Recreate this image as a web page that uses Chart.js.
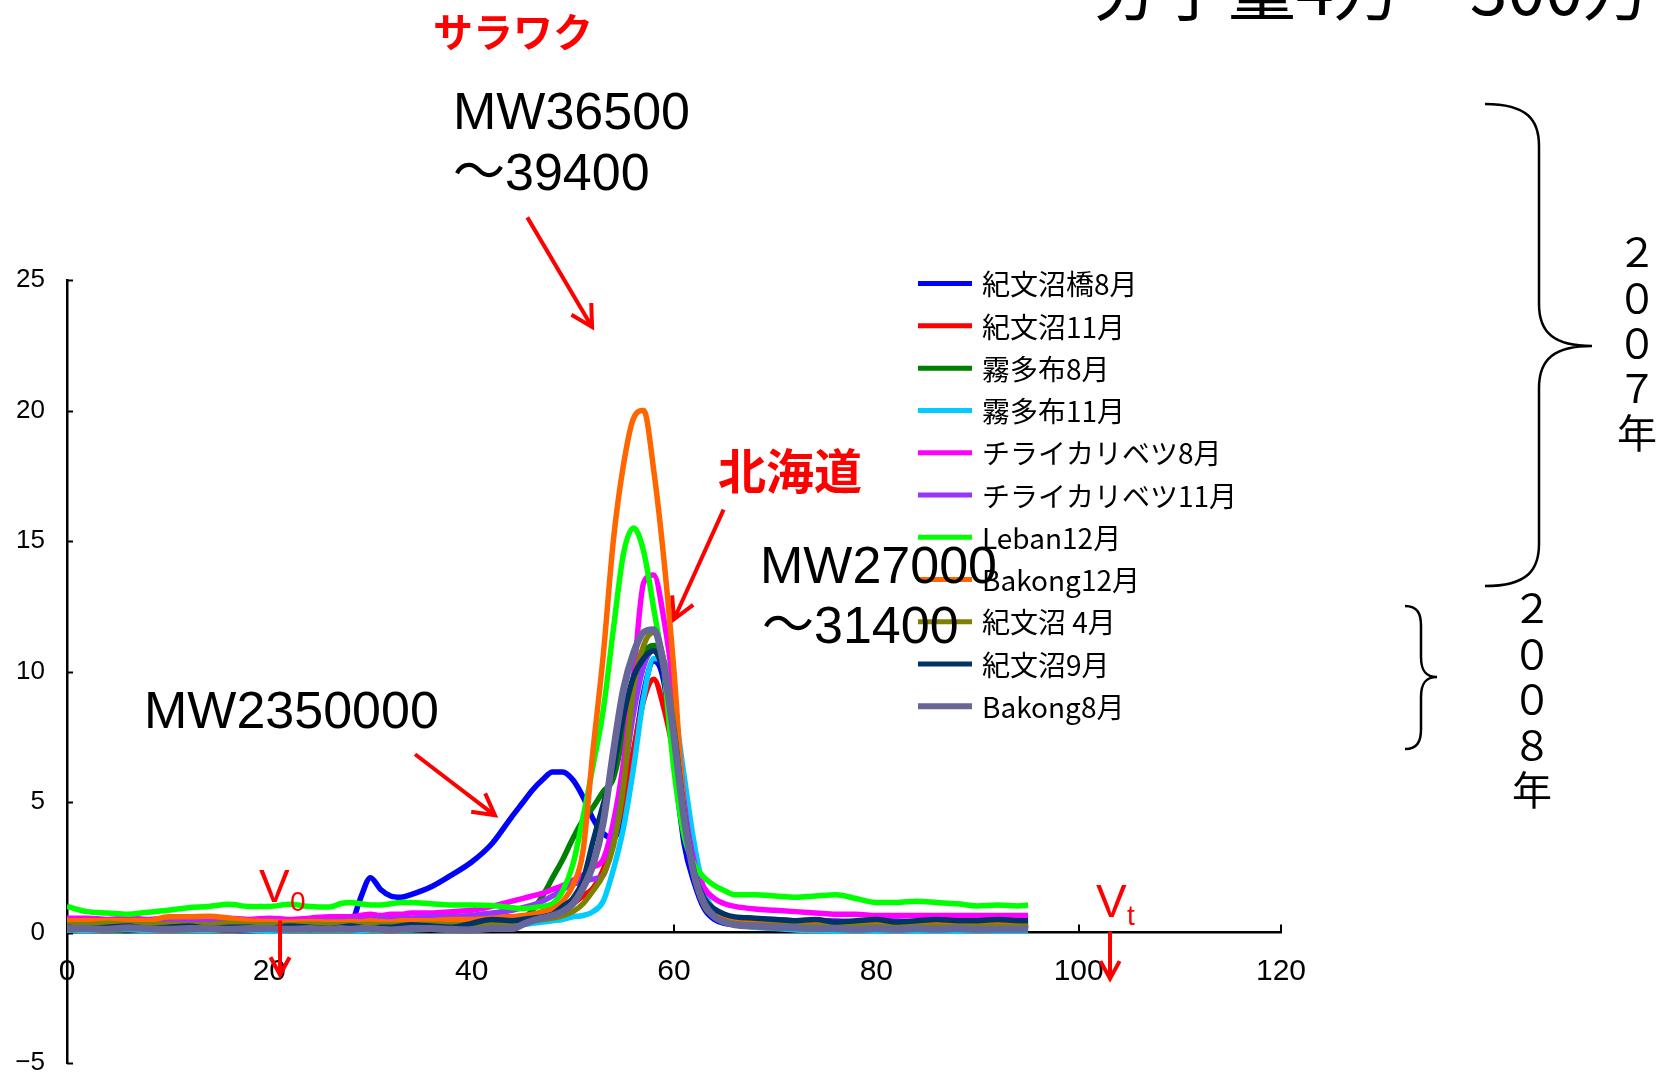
<!DOCTYPE html>
<html lang="ja">
<head>
<meta charset="utf-8">
<title>分子量4万～300万</title>
<script src="https://cdn.jsdelivr.net/npm/chart.js@4.4.1/dist/chart.umd.min.js"></script>
<style>
  html, body { margin: 0; padding: 0; background: #ffffff; }
  canvas { display: block; }
</style>
</head>
<body>
<canvas id="chart" width="1678" height="1076"></canvas>
<script>
// Elution volume (ml) shared by every trace
const elutionVolume = [
  0, 2, 4, 6, 8, 10, 12, 14, 16, 18, 20, 22, 24, 26,
  27, 28, 29, 30, 31, 32, 33,
  34, 36, 38, 40, 42, 44,
  45, 46, 47, 48, 49, 50, 51, 52, 53, 54, 55, 56, 57, 58, 59, 60, 61, 62, 63, 64, 65, 66,
  68, 70, 72, 74, 76, 78, 80, 82, 84, 86, 88, 90, 92, 94, 95
];

const seriesNames = [
  '紀文沼橋8月', '紀文沼11月', '霧多布8月', '霧多布11月', 'チライカリベツ8月',
  'チライカリベツ11月', 'Leban12月', 'Bakong12月', '紀文沼 4月', '紀文沼9月', 'Bakong8月'
];

const seriesColors = [
  '#0000FF', '#FF0000', '#008000', '#00CCFF', '#FF00FF',
  '#9933FF', '#00FF00', '#FF6600', '#808000', '#003366', '#666699'
];

// Detector response of each sample along the elution volume
const kibunBridgeAug = [
  0.15, 0.1, 0.12, 0.08, 0.1, 0.12, 0.1, 0.15, 0.1, 0.08, 0.12, 0.1, 0.15, 0.12,
  0.12, 0.25, 1.3, 2.1, 1.65, 1.4, 1.35,
  1.45, 1.75, 2.2, 2.7, 3.4, 4.45,
  4.95, 5.45, 5.85, 6.15, 6.15, 5.85, 5.2, 4.35, 3.8, 3.6, 4.6, 6.8, 9.2, 10.4, 9.6, 6.5, 3.4, 1.9, 0.9, 0.5, 0.35, 0.3,
  0.25, 0.2, 0.22, 0.18, 0.2, 0.15, 0.18, 0.2, 0.15, 0.18, 0.2, 0.15, 0.18, 0.2, 0.2
];
const kibunNov = [
  0.25, 0.3, 0.2, 0.3, 0.25, 0.35, 0.3, 0.25, 0.3, 0.25, 0.3, 0.25, 0.3, 0.3,
  0.28, 0.3, 0.35, 0.32, 0.3, 0.35, 0.33,
  0.35, 0.4, 0.45, 0.5, 0.55, 0.6,
  0.6, 0.65, 0.7, 0.75, 0.9, 1.1, 1.4, 1.7, 2.4, 3.6, 5.0, 7.0, 8.9, 9.7, 8.6, 6.8, 4.5, 2.3, 1.1, 0.7, 0.5, 0.45,
  0.4, 0.35, 0.35, 0.3, 0.32, 0.3, 0.3, 0.28, 0.3, 0.3, 0.28, 0.3, 0.3, 0.28, 0.3
];
const kiritappuAug = [
  0.1, 0.12, 0.08, 0.1, 0.1, 0.12, 0.1, 0.1, 0.12, 0.1, 0.08, 0.1, 0.12, 0.1,
  0.1, 0.1, 0.12, 0.1, 0.1, 0.12, 0.1,
  0.12, 0.15, 0.15, 0.2, 0.25, 0.35,
  0.5, 0.85, 1.4, 2.1, 2.8, 3.6, 4.3, 4.8, 5.4, 5.9, 7.6, 9.5, 10.7, 11.0, 10.4, 8.0, 5.3, 2.6, 1.3, 0.8, 0.55, 0.45,
  0.4, 0.35, 0.3, 0.32, 0.3, 0.28, 0.3, 0.3, 0.28, 0.3, 0.28, 0.3, 0.3, 0.28, 0.3
];
const kiritappuNov = [
  0.1, 0.08, 0.1, 0.12, 0.08, 0.1, 0.1, 0.08, 0.12, 0.1, 0.05, 0.08, 0.1, 0.08,
  0.1, 0.08, 0.05, 0.1, 0.08, 0.1, 0.08,
  0.1, 0.12, 0.1, 0.15, 0.2, 0.25,
  0.3, 0.35, 0.4, 0.45, 0.5, 0.6, 0.65, 0.8, 1.2, 2.4, 4.0, 6.3, 9.0, 10.5, 10.4, 8.7, 6.0, 3.4, 1.6, 0.8, 0.45, 0.3,
  0.2, 0.15, 0.1, 0.08, 0.05, 0.08, 0.05, 0.08, 0.05, 0.06, 0.05, 0.08, 0.05, 0.06, 0.05
];
const chiraiAug = [
  0.55, 0.55, 0.5, 0.55, 0.5, 0.55, 0.55, 0.5, 0.55, 0.5, 0.55, 0.5, 0.55, 0.6,
  0.6, 0.6, 0.65, 0.7, 0.65, 0.7, 0.7,
  0.75, 0.75, 0.8, 0.85, 1.0, 1.2,
  1.3, 1.4, 1.5, 1.65, 1.8, 2.0, 2.2, 2.5, 2.8, 4.2, 6.5, 9.8, 13.4, 13.7, 12.0, 9.2, 5.0, 2.7, 1.7, 1.3, 1.1, 1.0,
  0.9, 0.85, 0.8, 0.75, 0.7, 0.7, 0.65, 0.65, 0.65, 0.65, 0.65, 0.65, 0.65, 0.65, 0.65
];
const chiraiNov = [
  0.45, 0.45, 0.4, 0.45, 0.4, 0.45, 0.45, 0.4, 0.45, 0.4, 0.45, 0.4, 0.45, 0.45,
  0.45, 0.5, 0.5, 0.5, 0.55, 0.5, 0.55,
  0.55, 0.6, 0.6, 0.65, 0.75, 0.85,
  0.95, 1.05, 1.2, 1.4, 1.65, 1.85, 1.95, 2.05, 2.2, 3.5, 5.8, 8.4, 10.2, 10.8, 10.0, 7.9, 4.8, 2.5, 1.3, 0.8, 0.6, 0.55,
  0.5, 0.5, 0.45, 0.45, 0.45, 0.4, 0.45, 0.45, 0.4, 0.45, 0.45, 0.4, 0.45, 0.45, 0.45
];
const lebanDec = [
  1.0, 0.8, 0.75, 0.7, 0.78, 0.85, 0.95, 1.0, 1.08, 1.0, 1.0, 1.08, 1.0, 0.98,
  1.1, 1.15, 1.1, 1.05, 1.05, 1.1, 1.15,
  1.15, 1.1, 1.05, 1.05, 1.03, 0.95,
  0.92, 0.95, 1.0, 1.1, 1.6, 2.6, 4.4, 6.4, 8.5, 11.6, 14.5, 15.5, 14.6, 12.4, 10.0, 6.2, 3.7, 2.6, 2.1, 1.8, 1.6, 1.45,
  1.45, 1.4, 1.35, 1.4, 1.45, 1.3, 1.15, 1.15, 1.2, 1.15, 1.1, 1.02, 1.05, 1.02, 1.05
];
const bakongDec = [
  0.45, 0.45, 0.45, 0.45, 0.45, 0.6, 0.6, 0.62, 0.55, 0.45, 0.42, 0.4, 0.42, 0.4,
  0.4, 0.42, 0.4, 0.45, 0.42, 0.4, 0.45,
  0.45, 0.45, 0.5, 0.5, 0.55, 0.6,
  0.65, 0.7, 0.8, 0.9, 1.2, 1.8, 3.1, 7.0, 10.6, 15.0, 17.9, 19.7, 20.0, 17.7, 14.3, 10.0, 4.7, 2.2, 1.1, 0.7, 0.5, 0.45,
  0.4, 0.35, 0.35, 0.3, 0.3, 0.3, 0.32, 0.3, 0.3, 0.3, 0.28, 0.3, 0.3, 0.3, 0.3
];
const kibunApr = [
  0.3, 0.3, 0.35, 0.3, 0.3, 0.32, 0.3, 0.3, 0.35, 0.3, 0.3, 0.3, 0.32, 0.3,
  0.3, 0.3, 0.3, 0.32, 0.3, 0.3, 0.3,
  0.3, 0.32, 0.3, 0.3, 0.35, 0.35,
  0.4, 0.45, 0.5, 0.55, 0.65, 0.8, 1.1, 1.6, 2.2, 3.3, 5.6, 9.4, 11.0, 11.5, 10.4, 7.9, 4.6, 2.2, 1.0, 0.6, 0.45, 0.35,
  0.3, 0.28, 0.25, 0.25, 0.22, 0.25, 0.25, 0.22, 0.25, 0.25, 0.22, 0.25, 0.25, 0.22, 0.25
];
const kibunSep = [
  0.2, 0.15, 0.2, 0.25, 0.15, 0.2, 0.25, 0.15, 0.2, 0.2, 0.15, 0.25, 0.2, 0.15,
  0.2, 0.25, 0.2, 0.15, 0.2, 0.2, 0.25,
  0.3, 0.25, 0.2, 0.35, 0.5, 0.45,
  0.5, 0.55, 0.6, 0.7, 1.0, 1.3, 2.0, 3.5, 4.9, 6.3, 8.3, 9.8, 10.5, 10.8, 9.9, 7.7, 4.6, 2.3, 1.3, 0.9, 0.7, 0.6,
  0.55, 0.5, 0.45, 0.5, 0.4, 0.45, 0.5, 0.4, 0.45, 0.5, 0.45, 0.45, 0.5, 0.45, 0.45
];
const bakongAug = [
  0.15, 0.15, 0.12, 0.18, 0.15, 0.12, 0.15, 0.15, 0.12, 0.15, 0.15, 0.12, 0.15, 0.12,
  0.15, 0.12, 0.15, 0.15, 0.12, 0.1, 0.12,
  0.15, 0.15, 0.12, 0.1, 0.15, 0.15,
  0.3, 0.45, 0.55, 0.65, 0.8, 1.1, 1.7, 2.6, 4.2, 6.9, 9.3, 10.7, 11.5, 11.6, 10.2, 7.5, 4.4, 2.2, 1.1, 0.6, 0.4, 0.3,
  0.25, 0.2, 0.18, 0.15, 0.15, 0.12, 0.15, 0.12, 0.15, 0.12, 0.15, 0.12, 0.12, 0.12, 0.12
];

const seriesValues = [
  kibunBridgeAug, kibunNov, kiritappuAug, kiritappuNov, chiraiAug,
  chiraiNov, lebanDec, bakongDec, kibunApr, kibunSep, bakongAug
];

const yTickValues = [-5, 0, 5, 10, 15, 20, 25];
const xTickValues = [0, 20, 40, 60, 80, 100, 120];

const CJK = '"Noto Sans CJK JP", "Noto Sans CJK SC", sans-serif';
const LATIN = '"Liberation Sans", "Noto Sans CJK JP", sans-serif';

const datasets = seriesNames.map((name, i) => ({
  label: name,
  data: elutionVolume.map((v, k) => ({ x: v, y: seriesValues[i][k] })),
  borderColor: seriesColors[i],
  backgroundColor: seriesColors[i],
  borderWidth: i === 10 ? 7 : 5.5,
  pointRadius: 0,
  cubicInterpolationMode: 'monotone',
  borderJoinStyle: 'round',
  fill: false,
  // later samples are painted over earlier ones
  order: seriesNames.length - 1 - i
}));

function arrow(ctx, x1, y1, x2, y2, head) {
  const a = Math.atan2(y2 - y1, x2 - x1);
  ctx.beginPath();
  ctx.moveTo(x1, y1);
  ctx.lineTo(x2, y2);
  ctx.moveTo(x2 - head * Math.cos(a - 0.5), y2 - head * Math.sin(a - 0.5));
  ctx.lineTo(x2, y2);
  ctx.lineTo(x2 - head * Math.cos(a + 0.5), y2 - head * Math.sin(a + 0.5));
  ctx.stroke();
}

function brace(ctx, xl, xm, xt, yTop, yTip, yBot, r) {
  ctx.beginPath();
  ctx.moveTo(xl, yTop);
  ctx.bezierCurveTo(xm - (xm - xl) * 0.2, yTop, xm, yTop + r * 0.4, xm, yTop + r);
  ctx.lineTo(xm, yTip - r);
  ctx.bezierCurveTo(xm, yTip - r * 0.3, xm + (xt - xm) * 0.3, yTip, xt, yTip);
  ctx.bezierCurveTo(xm + (xt - xm) * 0.3, yTip, xm, yTip + r * 0.3, xm, yTip + r);
  ctx.lineTo(xm, yBot - r);
  ctx.bezierCurveTo(xm, yBot - r * 0.4, xm - (xm - xl) * 0.2, yBot, xl, yBot);
  ctx.stroke();
}

const decorations = {
  id: 'decorations',
  beforeDatasetsDraw(chart) {
    // tick marks pointing into the plot
    const ctx = chart.ctx;
    const xs = chart.scales.x, ys = chart.scales.y;
    const y0 = ys.getPixelForValue(0);
    ctx.save();
    ctx.strokeStyle = '#000';
    ctx.lineWidth = 2;
    yTickValues.forEach(v => {
      const p = Math.round(ys.getPixelForValue(v)) + 0.5;
      ctx.beginPath(); ctx.moveTo(xs.left, p); ctx.lineTo(xs.left + 6, p); ctx.stroke();
    });
    xTickValues.forEach(v => {
      const p = Math.round(xs.getPixelForValue(v));
      ctx.beginPath(); ctx.moveTo(p, y0); ctx.lineTo(p, y0 - 8); ctx.stroke();
    });
    ctx.restore();
  },
  afterDatasetsDraw(chart) {
    const ctx = chart.ctx;
    const xs = chart.scales.x, ys = chart.scales.y;
    const P = (x, y) => [xs.getPixelForValue(x), ys.getPixelForValue(y)];
    ctx.save();

    // legend
    const legendTop = 283.6, legendStep = 42.27;
    ctx.textAlign = 'left';
    ctx.textBaseline = 'middle';
    ctx.font = '28px ' + CJK;
    seriesNames.forEach((name, i) => {
      const y = legendTop + i * legendStep;
      ctx.strokeStyle = seriesColors[i];
      ctx.lineWidth = i === 10 ? 6 : 5;
      ctx.beginPath(); ctx.moveTo(918, y); ctx.lineTo(972, y); ctx.stroke();
      ctx.fillStyle = '#000';
      ctx.fillText(name, 982, y + 1);
    });

    // annotations
    ctx.fillStyle = '#000';
    ctx.font = '52px ' + LATIN;
    ctx.fillText('MW36500', 453, 115);
    ctx.fillText('～39400', 453, 176);
    ctx.fillText('MW27000', 760, 569);
    ctx.fillText('～31400', 762, 629);
    ctx.fillText('MW2350000', 144, 714);

    ctx.fillStyle = '#FF0000';
    ctx.textAlign = 'center';
    ctx.font = 'bold 40px ' + CJK;
    ctx.fillText('サラワク', 513, 32);
    ctx.font = 'bold 48px ' + CJK;
    ctx.fillText('北海道', 790, 471);

    ctx.textAlign = 'left';
    ctx.font = '46px ' + LATIN;
    ctx.fillText('V', 259, 889);
    ctx.fillText('V', 1096, 904);
    ctx.font = '28px ' + LATIN;
    ctx.fillText('0', 290, 903);
    ctx.fillText('t', 1127, 917);

    ctx.strokeStyle = '#FF0000';
    ctx.lineWidth = 4;
    ctx.lineCap = 'butt';
    let a, b;
    a = P(45.5, 27.4); b = P(51.9, 23.2); arrow(ctx, a[0], a[1], b[0], b[1], 24);
    a = P(64.9, 16.2); b = P(60.0, 12.0); arrow(ctx, a[0], a[1], b[0], b[1], 24);
    a = P(34.4, 6.83); b = P(42.3, 4.49); arrow(ctx, a[0], a[1], b[0], b[1], 24);
    a = P(21.06, 0.46); b = P(21.06, -1.62); arrow(ctx, a[0], a[1], b[0], b[1], 20);
    a = P(103.1, 0.04); b = P(103.1, -1.77); arrow(ctx, a[0], a[1], b[0], b[1], 20);

    // heading
    ctx.fillStyle = '#000';
    ctx.textAlign = 'left';
    ctx.textBaseline = 'ideographic';
    ctx.font = '68px ' + CJK;
    ctx.fillText('分子量4万～300万', 1092, 23);

    // year groupings
    ctx.strokeStyle = '#000';
    ctx.lineWidth = 2.5;
    brace(ctx, 1485, 1539, 1592, 104, 346, 586, 42);
    brace(ctx, 1405, 1421, 1437, 606, 677, 749, 20);

    ctx.textAlign = 'center';
    ctx.textBaseline = 'middle';
    ctx.font = '40px ' + CJK;
    Array.from('２００７年').forEach((ch, i) => ctx.fillText(ch, 1637, 252 + i * 45.3));
    Array.from('２００８年').forEach((ch, i) => ctx.fillText(ch, 1532, 608 + i * 45.5));

    ctx.restore();
  }
};

new Chart(document.getElementById('chart'), {
  type: 'line',
  data: { datasets },
  options: {
    responsive: false,
    animation: false,
    devicePixelRatio: 1,
    layout: { padding: { left: 0, top: 280, right: 397, bottom: 13 } },
    plugins: {
      legend: { display: false },
      tooltip: { enabled: false }
    },
    scales: {
      x: {
        type: 'linear',
        min: 0,
        max: 120,
        position: { y: 0 },
        afterBuildTicks: s => { s.ticks = xTickValues.map(v => ({ value: v })); },
        grid: { drawOnChartArea: false, drawTicks: false },
        border: { display: true, color: '#000', width: 2.5 },
        ticks: {
          color: '#000',
          padding: 21,
          maxRotation: 0,
          font: { family: '"Liberation Sans Narrow", "Liberation Sans", sans-serif', size: 30 }
        }
      },
      y: {
        type: 'linear',
        min: -5,
        max: 25,
        afterBuildTicks: s => { s.ticks = yTickValues.map(v => ({ value: v })); },
        afterFit: s => { s.width = 67; s.paddingTop = 0; s.paddingBottom = 0; },
        grid: { drawOnChartArea: false, drawTicks: false },
        border: { display: true, color: '#000', width: 2.5 },
        ticks: {
          color: '#000',
          padding: 22,
          font: { family: '"Liberation Sans", sans-serif', size: 26 },
          callback: v => (v < 0 ? '\u2212' + Math.abs(v) : String(v))
        }
      }
    }
  },
  plugins: [decorations]
});
</script>
</body>
</html>
